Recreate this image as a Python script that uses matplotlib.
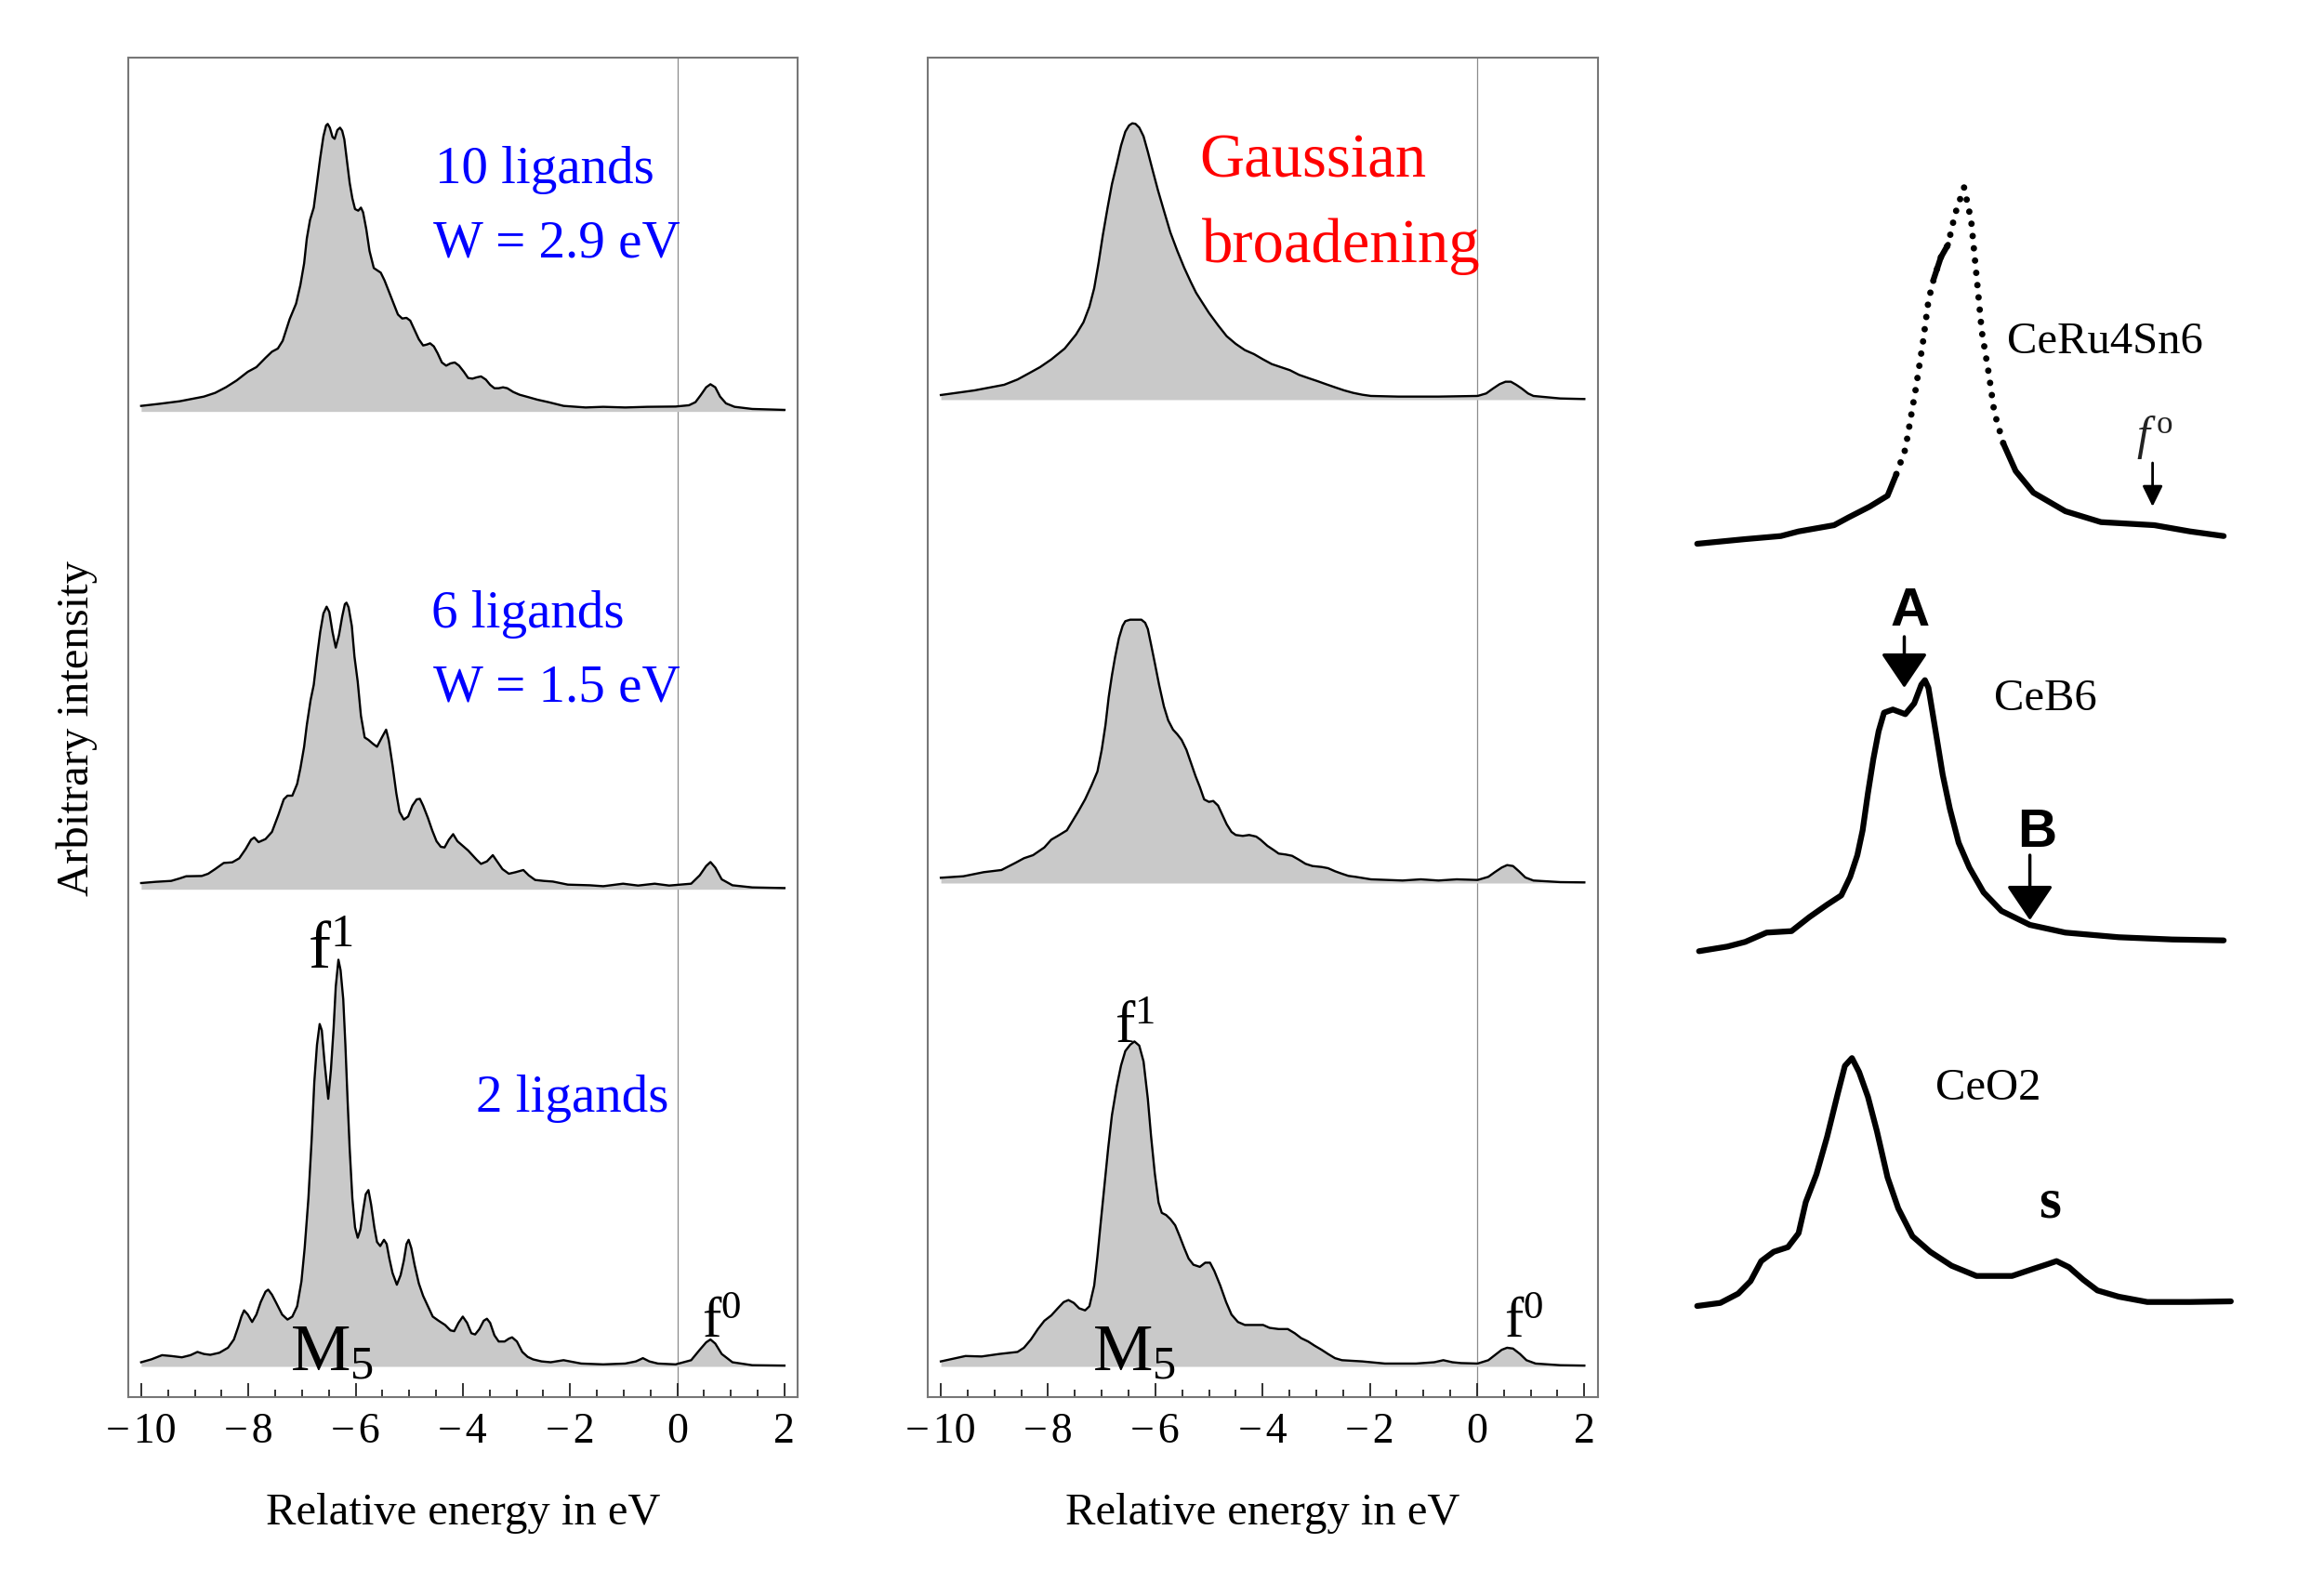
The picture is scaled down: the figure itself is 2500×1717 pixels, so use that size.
import numpy as np
import matplotlib
matplotlib.use("Agg")
import matplotlib.pyplot as plt
from matplotlib.ticker import MultipleLocator, FuncFormatter

plt.rcParams['font.family'] = ['Liberation Serif', 'DejaVu Serif']
plt.rcParams['mathtext.fontset'] = 'custom'
plt.rcParams['mathtext.rm'] = 'Liberation Serif'
plt.rcParams['mathtext.it'] = 'Liberation Serif:italic'
plt.rcParams['mathtext.bf'] = 'Liberation Serif:bold'

# computed spectra: (energy in eV, intensity above the baseline)
# left panel, 2 ligands
lig2 = [(-10.00, 0.045), (-9.81, 0.076), (-9.61, 0.121), (-9.44, 0.112), (-9.24, 0.098),
        (-9.08, 0.121), (-8.95, 0.156), (-8.83, 0.134), (-8.71, 0.125), (-8.54, 0.147),
        (-8.38, 0.201), (-8.27, 0.290), (-8.19, 0.424), (-8.13, 0.536), (-8.08, 0.603),
        (-8.01, 0.558), (-7.93, 0.478), (-7.85, 0.558), (-7.77, 0.692), (-7.68, 0.804),
        (-7.63, 0.826), (-7.56, 0.772), (-7.48, 0.683), (-7.37, 0.558), (-7.27, 0.504),
        (-7.18, 0.536), (-7.09, 0.647), (-7.01, 0.915), (-6.95, 1.272), (-6.88, 1.808),
        (-6.82, 2.433), (-6.77, 3.058), (-6.72, 3.460), (-6.67, 3.683), (-6.63, 3.616),
        (-6.58, 3.281), (-6.51, 2.879), (-6.46, 3.192), (-6.41, 3.638), (-6.37, 4.085),
        (-6.32, 4.375), (-6.28, 4.263), (-6.23, 3.951), (-6.19, 3.460), (-6.15, 2.879),
        (-6.11, 2.344), (-6.06, 1.808), (-6.01, 1.496), (-5.96, 1.384), (-5.91, 1.473),
        (-5.86, 1.674), (-5.81, 1.853), (-5.76, 1.897), (-5.71, 1.741), (-5.65, 1.496),
        (-5.60, 1.339), (-5.54, 1.295), (-5.47, 1.362), (-5.42, 1.317), (-5.37, 1.161),
        (-5.31, 1.004), (-5.23, 0.879), (-5.16, 0.982), (-5.10, 1.138), (-5.05, 1.317),
        (-5.01, 1.362), (-4.96, 1.272), (-4.90, 1.094), (-4.82, 0.893), (-4.74, 0.759),
        (-4.65, 0.647), (-4.56, 0.536), (-4.45, 0.491), (-4.33, 0.446), (-4.23, 0.388),
        (-4.16, 0.379), (-4.08, 0.469), (-4.00, 0.536), (-3.92, 0.469), (-3.84, 0.357),
        (-3.77, 0.344), (-3.69, 0.402), (-3.61, 0.491), (-3.55, 0.513), (-3.49, 0.469),
        (-3.41, 0.335), (-3.33, 0.268), (-3.22, 0.268), (-3.14, 0.299), (-3.08, 0.313),
        (-2.99, 0.268), (-2.89, 0.156), (-2.79, 0.103), (-2.69, 0.076), (-2.53, 0.054),
        (-2.36, 0.045), (-2.12, 0.067), (-1.79, 0.031), (-1.38, 0.022), (-0.97, 0.031),
        (-0.77, 0.054), (-0.64, 0.089), (-0.52, 0.054), (-0.36, 0.031), (-0.03, 0.022),
        (0.26, 0.067), (0.42, 0.179), (0.54, 0.259), (0.62, 0.290), (0.71, 0.246),
        (0.83, 0.134), (1.03, 0.045), (1.40, 0.013), (2.00, 0.009)]

# left panel, 6 ligands
lig6 = [(-10.00, 0.067), (-9.73, 0.080), (-9.44, 0.090), (-9.28, 0.117), (-9.16, 0.140),
        (-8.87, 0.143), (-8.75, 0.167), (-8.62, 0.217), (-8.46, 0.283), (-8.30, 0.290),
        (-8.17, 0.333), (-8.05, 0.433), (-7.95, 0.533), (-7.89, 0.557), (-7.81, 0.507),
        (-7.68, 0.540), (-7.56, 0.617), (-7.44, 0.800), (-7.34, 0.967), (-7.27, 1.007),
        (-7.18, 1.007), (-7.09, 1.133), (-7.03, 1.300), (-6.96, 1.533), (-6.91, 1.767),
        (-6.84, 2.033), (-6.78, 2.200), (-6.72, 2.500), (-6.66, 2.767), (-6.60, 2.967),
        (-6.54, 3.040), (-6.49, 2.983), (-6.43, 2.767), (-6.37, 2.600), (-6.31, 2.733),
        (-6.25, 2.933), (-6.20, 3.067), (-6.17, 3.083), (-6.13, 3.033), (-6.07, 2.833),
        (-6.02, 2.500), (-5.96, 2.233), (-5.90, 1.867), (-5.83, 1.633), (-5.76, 1.607),
        (-5.68, 1.567), (-5.60, 1.533), (-5.51, 1.633), (-5.43, 1.717), (-5.38, 1.600),
        (-5.31, 1.333), (-5.24, 1.033), (-5.18, 0.833), (-5.10, 0.750), (-5.02, 0.783),
        (-4.94, 0.900), (-4.86, 0.967), (-4.80, 0.973), (-4.74, 0.900), (-4.65, 0.767),
        (-4.57, 0.633), (-4.49, 0.517), (-4.41, 0.457), (-4.34, 0.450), (-4.26, 0.533),
        (-4.18, 0.593), (-4.10, 0.517), (-4.00, 0.467), (-3.90, 0.417), (-3.82, 0.367),
        (-3.74, 0.317), (-3.66, 0.273), (-3.55, 0.300), (-3.44, 0.367), (-3.36, 0.300),
        (-3.26, 0.217), (-3.14, 0.167), (-3.02, 0.183), (-2.87, 0.207), (-2.77, 0.150),
        (-2.65, 0.100), (-2.49, 0.090), (-2.32, 0.083), (-2.04, 0.050), (-1.63, 0.043),
        (-1.38, 0.033), (-1.01, 0.060), (-0.73, 0.040), (-0.42, 0.060), (-0.15, 0.040),
        (0.26, 0.060), (0.42, 0.150), (0.54, 0.250), (0.62, 0.293), (0.71, 0.233),
        (0.83, 0.107), (1.03, 0.043), (1.40, 0.020), (2.00, 0.013)]

# left panel, 10 ligands
lig10 = [(-10.00, 0.060), (-9.65, 0.083), (-9.28, 0.110), (-8.83, 0.160), (-8.62, 0.200),
         (-8.42, 0.260), (-8.22, 0.333), (-8.01, 0.427), (-7.85, 0.477), (-7.68, 0.577),
         (-7.56, 0.643), (-7.45, 0.677), (-7.36, 0.760), (-7.23, 0.993), (-7.11, 1.160),
         (-7.03, 1.360), (-6.96, 1.593), (-6.91, 1.860), (-6.85, 2.060), (-6.78, 2.193),
         (-6.72, 2.460), (-6.66, 2.727), (-6.60, 2.960), (-6.55, 3.077), (-6.52, 3.093),
         (-6.48, 3.053), (-6.43, 2.953), (-6.39, 2.933), (-6.34, 3.027), (-6.29, 3.053),
         (-6.25, 3.020), (-6.21, 2.927), (-6.16, 2.693), (-6.11, 2.460), (-6.06, 2.293),
         (-6.01, 2.177), (-5.95, 2.160), (-5.90, 2.193), (-5.86, 2.143), (-5.80, 1.960),
         (-5.74, 1.727), (-5.66, 1.543), (-5.60, 1.520), (-5.53, 1.493), (-5.46, 1.410),
         (-5.38, 1.293), (-5.29, 1.160), (-5.21, 1.043), (-5.13, 1.000), (-5.05, 1.007),
         (-4.98, 0.977), (-4.90, 0.877), (-4.82, 0.777), (-4.74, 0.710), (-4.67, 0.720),
         (-4.61, 0.733), (-4.54, 0.700), (-4.47, 0.627), (-4.39, 0.527), (-4.31, 0.493),
         (-4.23, 0.517), (-4.15, 0.527), (-4.07, 0.493), (-3.98, 0.427), (-3.90, 0.360),
         (-3.82, 0.353), (-3.74, 0.367), (-3.66, 0.377), (-3.57, 0.343), (-3.49, 0.287),
         (-3.41, 0.250), (-3.33, 0.250), (-3.25, 0.260), (-3.17, 0.250), (-3.06, 0.210),
         (-2.94, 0.180), (-2.77, 0.153), (-2.61, 0.127), (-2.40, 0.100), (-2.12, 0.060),
         (-1.71, 0.043), (-1.38, 0.050), (-0.97, 0.043), (-0.56, 0.050), (-0.03, 0.053),
         (0.22, 0.067), (0.34, 0.100), (0.44, 0.177), (0.54, 0.260), (0.62, 0.293),
         (0.71, 0.260), (0.80, 0.160), (0.91, 0.087), (1.07, 0.050), (1.40, 0.027),
         (2.00, 0.017)]

# middle panel (Gaussian broadening), bottom
gb2 = [(-10.00, 0.054), (-9.54, 0.112), (-9.24, 0.107), (-8.91, 0.134), (-8.57, 0.156),
       (-8.45, 0.201), (-8.32, 0.290), (-8.19, 0.402), (-8.07, 0.491), (-7.94, 0.549),
       (-7.82, 0.625), (-7.71, 0.692), (-7.62, 0.714), (-7.52, 0.683), (-7.42, 0.625),
       (-7.31, 0.603), (-7.23, 0.647), (-7.14, 0.871), (-7.08, 1.183), (-7.02, 1.540),
       (-6.95, 1.942), (-6.88, 2.344), (-6.81, 2.701), (-6.72, 3.013), (-6.64, 3.237),
       (-6.56, 3.393), (-6.47, 3.460), (-6.39, 3.496), (-6.30, 3.451), (-6.22, 3.281),
       (-6.14, 2.879), (-6.08, 2.478), (-6.01, 2.076), (-5.94, 1.763), (-5.88, 1.652),
       (-5.80, 1.629), (-5.72, 1.585), (-5.63, 1.518), (-5.55, 1.406), (-5.46, 1.272),
       (-5.38, 1.161), (-5.29, 1.094), (-5.17, 1.071), (-5.07, 1.116), (-4.98, 1.116),
       (-4.90, 1.027), (-4.79, 0.871), (-4.68, 0.692), (-4.58, 0.558), (-4.46, 0.478),
       (-4.33, 0.446), (-4.16, 0.446), (-3.99, 0.446), (-3.87, 0.415), (-3.70, 0.402),
       (-3.53, 0.402), (-3.40, 0.357), (-3.28, 0.304), (-3.15, 0.268), (-3.03, 0.223),
       (-2.90, 0.179), (-2.78, 0.134), (-2.65, 0.089), (-2.52, 0.067), (-2.14, 0.054),
       (-1.72, 0.031), (-1.14, 0.031), (-0.80, 0.045), (-0.63, 0.067), (-0.46, 0.045),
       (-0.30, 0.036), (0.01, 0.031), (0.21, 0.067), (0.33, 0.121), (0.46, 0.179),
       (0.56, 0.201), (0.67, 0.192), (0.80, 0.134), (0.92, 0.067), (1.09, 0.031),
       (1.55, 0.013), (2.00, 0.009)]

# middle panel, middle
gb6 = [(-10.00, 0.057), (-9.58, 0.073), (-9.20, 0.117), (-8.87, 0.140), (-8.61, 0.217),
       (-8.45, 0.267), (-8.28, 0.300), (-8.07, 0.383), (-7.94, 0.467), (-7.82, 0.507),
       (-7.65, 0.567), (-7.44, 0.767), (-7.31, 0.900), (-7.19, 1.050), (-7.08, 1.200),
       (-7.00, 1.433), (-6.93, 1.700), (-6.87, 2.000), (-6.81, 2.233), (-6.75, 2.433),
       (-6.68, 2.633), (-6.61, 2.767), (-6.56, 2.817), (-6.47, 2.833), (-6.26, 2.833),
       (-6.19, 2.800), (-6.14, 2.733), (-6.08, 2.567), (-6.01, 2.367), (-5.93, 2.133),
       (-5.84, 1.900), (-5.76, 1.750), (-5.67, 1.650), (-5.59, 1.600), (-5.51, 1.540),
       (-5.42, 1.433), (-5.34, 1.300), (-5.25, 1.150), (-5.17, 1.033), (-5.09, 0.900),
       (-5.00, 0.873), (-4.92, 0.883), (-4.83, 0.833), (-4.75, 0.733), (-4.67, 0.633),
       (-4.58, 0.550), (-4.50, 0.517), (-4.37, 0.507), (-4.25, 0.517), (-4.12, 0.500),
       (-4.04, 0.467), (-3.91, 0.400), (-3.78, 0.350), (-3.70, 0.317), (-3.57, 0.307),
       (-3.45, 0.293), (-3.32, 0.250), (-3.20, 0.207), (-3.07, 0.183), (-2.90, 0.173),
       (-2.78, 0.160), (-2.65, 0.127), (-2.52, 0.100), (-2.40, 0.077), (-2.27, 0.067),
       (-1.98, 0.040), (-1.39, 0.027), (-1.05, 0.040), (-0.72, 0.027), (-0.38, 0.040),
       (0.01, 0.033), (0.21, 0.067), (0.33, 0.117), (0.46, 0.167), (0.56, 0.193),
       (0.67, 0.183), (0.78, 0.127), (0.90, 0.060), (1.05, 0.027), (1.55, 0.010),
       (2.00, 0.007)]

# middle panel, top
gb10 = [(-10.00, 0.050), (-9.37, 0.100), (-8.82, 0.160), (-8.57, 0.217), (-8.36, 0.283),
        (-8.15, 0.350), (-7.94, 0.433), (-7.69, 0.550), (-7.48, 0.700), (-7.34, 0.833),
        (-7.23, 1.000), (-7.14, 1.200), (-7.06, 1.467), (-6.98, 1.767), (-6.89, 2.067),
        (-6.81, 2.317), (-6.72, 2.533), (-6.64, 2.733), (-6.56, 2.883), (-6.49, 2.950),
        (-6.43, 2.973), (-6.37, 2.967), (-6.30, 2.927), (-6.22, 2.833), (-6.14, 2.667),
        (-6.05, 2.467), (-5.95, 2.250), (-5.84, 2.033), (-5.72, 1.800), (-5.59, 1.600),
        (-5.46, 1.417), (-5.34, 1.267), (-5.24, 1.150), (-5.13, 1.050), (-5.00, 0.933),
        (-4.83, 0.800), (-4.67, 0.683), (-4.50, 0.600), (-4.33, 0.533), (-4.16, 0.490),
        (-3.99, 0.433), (-3.83, 0.383), (-3.66, 0.350), (-3.49, 0.317), (-3.32, 0.267),
        (-3.15, 0.233), (-2.98, 0.200), (-2.82, 0.167), (-2.65, 0.133), (-2.48, 0.100),
        (-2.31, 0.073), (-2.14, 0.053), (-1.98, 0.040), (-1.47, 0.033), (-0.72, 0.033),
        (0.01, 0.040), (0.17, 0.067), (0.29, 0.117), (0.42, 0.167), (0.53, 0.193),
        (0.63, 0.193), (0.73, 0.160), (0.84, 0.117), (0.95, 0.067), (1.05, 0.040),
        (1.55, 0.013), (2.00, 0.007)]

# stacking offsets of the baselines (arbitrary intensity)
left_offsets = [0.327, 5.46, 10.60]
mid_offsets = [0.327, 5.527, 10.727]

# measured spectra (right column), digitised in scan units
ceru_x = [1825.7, 1877.4, 1915.7, 1934.8, 1973.0, 1988.4, 2011.3, 2030.5, 2040.0, 2049.6,
          2055.4, 2061.1, 2068.8, 2074.5, 2080.2, 2087.9, 2095.5, 2103.2, 2112.8, 2120.4,
          2126.2, 2131.9, 2139.6, 2145.3, 2154.9, 2168.3, 2187.4, 2221.8, 2260.1, 2317.5,
          2355.8, 2392.1]
ceru_y = [585.0, 580.0, 576.7, 571.7, 565.0, 556.7, 545.0, 533.3, 510.0, 483.3,
          450.0, 416.7, 366.7, 323.3, 300.0, 276.7, 263.3, 230.0, 201.7, 236.7,
          296.7, 356.7, 403.3, 443.3, 476.7, 506.7, 530.0, 550.0, 561.7, 565.0,
          571.7, 576.7]
ceb6_x = [1827.7, 1858.3, 1877.4, 1900.4, 1927.2, 1946.3, 1965.4, 1980.7, 1990.3, 1998.0,
          2003.7, 2009.4, 2015.2, 2020.9, 2026.7, 2036.2, 2049.6, 2059.2, 2066.8, 2070.7,
          2074.5, 2082.2, 2089.8, 2097.5, 2107.0, 2118.5, 2133.8, 2153.0, 2183.6, 2221.8,
          2279.2, 2336.6, 2392.1]
ceb6_y = [1023.3, 1018.3, 1013.3, 1003.3, 1001.7, 986.7, 973.3, 963.3, 943.3, 920.0,
          893.3, 853.3, 816.7, 786.7, 766.7, 763.3, 768.3, 756.7, 736.7, 731.7,
          740.0, 786.7, 833.3, 870.0, 906.7, 933.3, 960.0, 980.0, 995.0, 1003.3,
          1008.3, 1010.7, 1011.7]
ceo2_x = [1825.7, 1850.6, 1869.8, 1883.1, 1894.6, 1908.0, 1923.3, 1934.8, 1942.5, 1954.0,
          1965.4, 1976.9, 1984.6, 1992.2, 1999.9, 2009.4, 2019.0, 2030.5, 2042.0, 2057.3,
          2076.4, 2099.4, 2126.2, 2164.4, 2187.4, 2202.7, 2212.3, 2225.7, 2241.0, 2256.3,
          2279.2, 2309.9, 2355.8, 2399.8]
ceo2_y = [1405.0, 1401.7, 1391.7, 1378.3, 1356.7, 1346.7, 1341.7, 1326.7, 1293.3, 1263.3,
          1223.3, 1176.7, 1146.7, 1138.3, 1153.3, 1180.0, 1216.7, 1266.7, 1300.0, 1330.0,
          1346.7, 1361.7, 1372.7, 1372.7, 1365.0, 1360.0, 1356.7, 1363.3, 1376.7, 1388.3,
          1395.0, 1400.7, 1400.7, 1400.0]

fill_color = '#c9c9c9'
frame_color = '#777777'

fig = plt.figure(figsize=(25, 17.17), dpi=100)

ax_left = fig.add_axes((0.0552, 0.1248, 0.2881, 0.8393))
ax_mid = fig.add_axes((0.3993, 0.1248, 0.2882, 0.8393))


def style_panel(ax):
    ax.set_xlim(-10.24, 2.25)
    ax.set_ylim(0, 14.41)
    for s in ax.spines.values():
        s.set_color(frame_color)
        s.set_linewidth(1.5)
    ax.axvline(0, color='#8c8c8c', lw=0.9, zorder=1)
    ax.xaxis.set_major_locator(MultipleLocator(2))
    ax.xaxis.set_minor_locator(MultipleLocator(0.5))
    ax.xaxis.set_major_formatter(FuncFormatter(
        lambda v, p: ('\u2212\u200a' if v < 0 else '') + '%d' % abs(round(v))))
    ax.tick_params(axis='x', which='major', direction='in', length=11, width=1.3,
                   labelsize=33, pad=12, color='#222222')
    ax.tick_params(axis='x', which='minor', direction='in', length=5.5, width=1.3,
                   color='#222222')
    ax.set_yticks([])


def draw_spectrum(ax, pairs, base):
    e = np.array([p[0] for p in pairs])
    y = base + np.array([p[1] for p in pairs])
    ax.fill_between(e, base, y, color=fill_color, lw=0, zorder=2)
    ax.plot(e, y, color='black', lw=1.7, zorder=3, solid_joinstyle='round')


for ax in (ax_left, ax_mid):
    style_panel(ax)

draw_spectrum(ax_left, lig2, left_offsets[0])
draw_spectrum(ax_left, lig6, left_offsets[1])
draw_spectrum(ax_left, lig10, left_offsets[2])
draw_spectrum(ax_mid, gb2, mid_offsets[0])
draw_spectrum(ax_mid, gb6, mid_offsets[1])
draw_spectrum(ax_mid, gb10, mid_offsets[2])

blue = '#0000ff'
ax_left.text(-4.52, 13.06, '10 ligands', color=blue, fontsize=41)
ax_left.text(-4.56, 12.26, 'W = 2.9 eV', color=blue, fontsize=41)
ax_left.text(-4.58, 8.277, '6 ligands', color=blue, fontsize=41)
ax_left.text(-4.55, 7.477, 'W = 1.5 eV', color=blue, fontsize=41)
ax_left.text(-3.76, 3.063, '2 ligands', color=blue, fontsize=41)
ax_left.text(-6.47, 4.61, r'$\mathrm{f}^{1}$', fontsize=52, ha='center')
ax_left.text(-6.44, 0.28, r'$\mathrm{M}_{5}$', fontsize=52, ha='center')
ax_left.text(0.83, 0.64, r'$\mathrm{f}^{0}$', fontsize=44, ha='center')

ax_mid.text(-5.18, 13.12, 'Gaussian', color='#ff0000', fontsize=48)
ax_mid.text(-5.14, 12.21, 'broadening', color='#ff0000', fontsize=48)
ax_mid.text(-6.39, 3.81, r'$\mathrm{f}^{1}$', fontsize=46, ha='center')
ax_mid.text(-6.39, 0.28, r'$\mathrm{M}_{5}$', fontsize=52, ha='center')
ax_mid.text(0.88, 0.64, r'$\mathrm{f}^{0}$', fontsize=44, ha='center')

for cx in (498, 1358.4):
    fig.text(cx / 2500, 1 - 1628 / 1717, 'Relative energy in eV', fontsize=35,
             ha='center', va='center')
fig.text(83 / 2500, 1 - 783 / 1717, 'Arbitrary intensity', fontsize=35,
         rotation=90, ha='center', va='center')

# right column: experimental spectra
ax_r = fig.add_axes((1800 / 2500, 1 - 1480 / 1717, 620 / 2500, 1380 / 1717))
ax_r.set_xlim(1800, 2420)
ax_r.set_ylim(1480, 100)
ax_r.axis('off')

thick = dict(color='black', lw=4.5, solid_capstyle='round', solid_joinstyle='round')
# CeRu4Sn6: solid wings, dotted upper part
ax_r.plot(ceru_x[:9], ceru_y[:9], **thick)
ax_r.plot(ceru_x[8:25], ceru_y[8:25], color='black', lw=5, linestyle=(0, (0.01, 1.9)),
          dash_capstyle='round')
ax_r.plot(ceru_x[14:17], ceru_y[14:17], **thick)
ax_r.plot(ceru_x[24:], ceru_y[24:], **thick)
ax_r.plot(ceb6_x, ceb6_y, **thick)
ax_r.plot(ceo2_x, ceo2_y, **thick)

ax_r.text(2158.7, 380, 'CeRu4Sn6', fontsize=35)
ax_r.text(2145, 764, 'CeB6', fontsize=35)
ax_r.text(2082, 1182.7, 'CeO2', fontsize=35)
ax_r.text(2205.4, 1310, 's', fontsize=44, fontweight='bold', ha='center')
ax_r.text(2055, 672.7, 'A', fontsize=42, fontweight='bold', ha='center',
          family='Liberation Sans')
ax_r.text(2191, 910.7, 'B', fontsize=42, fontweight='bold', ha='center',
          family='Liberation Sans')
ax_r.text(2318, 483, r'$\mathit{f}^{\,\mathrm{o}}$', fontsize=36, ha='center',
          color='#222222')

big_head = dict(arrowstyle='-|>,head_length=0.4,head_width=0.27', color='black',
                lw=2.5, mutation_scale=58, shrinkA=0, shrinkB=0)
ax_r.annotate('', xy=(2048.5, 740), xytext=(2048.5, 685), arrowprops=big_head)
ax_r.annotate('', xy=(2183.6, 990), xytext=(2183.6, 920), arrowprops=big_head)
ax_r.annotate('', xy=(2315.6, 545), xytext=(2315.6, 498),
              arrowprops=dict(arrowstyle='-|>,head_length=0.45,head_width=0.22',
                              color='black', lw=2, mutation_scale=30,
                              shrinkA=0, shrinkB=0))

fig.savefig('out.png', dpi=100)
